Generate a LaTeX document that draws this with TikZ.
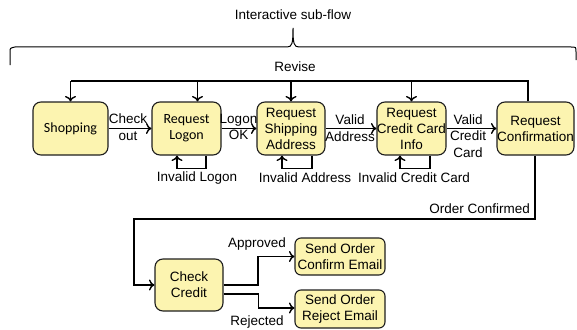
\documentclass[tikz,border=0pt]{standalone}
\usepackage{fontspec}
\setmainfont{Liberation Sans}
\newfontfamily\calfont{Carlito}
\usetikzlibrary{arrows.meta,calc}
\definecolor{boxfill}{RGB}{252,244,176}
\definecolor{boxline}{RGB}{30,30,30}
\tikzset{
  stbox/.style={draw=boxline,line width=1.1pt,fill=boxfill,rounded corners=8pt,align=center,
    inner sep=0pt,font=\fontsize{13.5}{16}\selectfont},
  line/.style={draw=black,line width=1.1pt},
  arr/.style={line,-{To[length=5.5pt,width=11pt,line width=1.4pt]}},
  lbl/.style={align=center,inner sep=0pt,font=\fontsize{13.5}{16.5}\selectfont},
}
\begin{document}
\begin{tikzpicture}[x=1pt,y=-1pt]
\useasboundingbox (0,0) rectangle (577,329);
% boxes
\node[stbox,minimum width=75pt,minimum height=53pt,font=\calfont\fontsize{14}{16}\selectfont] (shop) at (70.5,128.5) {Shopping};
\node[stbox,minimum width=69pt,minimum height=53pt,font=\calfont\fontsize{14}{16}\selectfont] (logon) at (186.5,128.5) {Request\\Logon};
\node[stbox,minimum width=68pt,minimum height=53pt] (ship) at (291,128.5) {Request\\Shipping\\Address};
\node[stbox,minimum width=69pt,minimum height=53pt] (credit) at (411.5,128.5) {Request\\Credit Card\\Info};
\node[stbox,minimum width=77pt,minimum height=53pt] (conf) at (535.5,128.5) {Request\\Confirmation};
\node[stbox,minimum width=68pt,minimum height=52pt] (check) at (189,285) {Check\\Credit};
\node[stbox,minimum width=90pt,minimum height=37pt,rounded corners=6pt] (cemail) at (340,256.5) {Send Order\\Confirm Email};
\node[stbox,minimum width=90pt,minimum height=38pt,rounded corners=6pt] (remail) at (340,309) {Send Order\\Reject Email};
% brace
\node[lbl] (title) at (293,15) {Interactive sub-flow};
\draw[line,line width=1pt] (10,65) -- (10,52) .. controls (10,48) .. (15,47) -- (287,47)
  .. controls (292,47) and (293,44) .. (293,28)
  .. controls (293,44) and (294,47) .. (299,47) -- (571,47) .. controls (576,47) .. (576,52) -- (576,60);
% revise
\node[lbl] (revise) at (295,67) {Revise};
\coordinate (rv) at (528,81);
\draw[line] (rv |- conf.north) -- (rv) -- (shop.north |- rv);
\draw[arr] (shop.north |- rv) -- (shop.north);
\coordinate (lgt) at ($(logon.north)+(11,0)$);
\draw[arr] (lgt |- rv) -- (lgt);
\draw[arr] (ship.north |- rv) -- (ship.north);
\draw[arr] (credit.north |- rv) -- (credit.north);
% forward arrows
\draw[arr] (shop.east) -- (logon.west);
\node[lbl] (l1) at (128,127) {Check\\out};
\draw[arr] (logon.east) -- (ship.west);
\node[lbl] (l2) at (238.5,127) {Logon\\OK};
\draw[arr] (ship.east) -- (credit.west);
\node[lbl] (l3) at (350,128) {Valid\\Address};
\draw[arr] (credit.east) -- (conf.west);
\node[lbl] (l4) at (468,136) {Valid\\Credit\\Card};
% self loops
\draw[arr] ([xshift=19.5pt]logon.south) -- ++(0,13) -| ([xshift=-9.5pt]logon.south);
\node[lbl] (i1) at (197,178) {Invalid Logon};
\draw[arr] ([xshift=21pt]ship.south) -- ++(0,13) -| ([xshift=-9pt]ship.south);
\node[lbl] (i2) at (305,178) {Invalid Address};
\draw[arr] ([xshift=18.5pt]credit.south) -- ++(0,13) -| ([xshift=-11.5pt]credit.south);
\node[lbl] (i3) at (414,178) {Invalid Credit Card};
% order confirmed
\coordinate (oc1) at (535,219);
\coordinate (oc2) at (134,219);
\draw[arr] (oc1 |- conf.south) -- (oc1) -- (oc2) |- (check.west);
\node[lbl,anchor=east] (ocl) at (530,209) {Order Confirmed};
% check credit outputs
\coordinate (sp) at (258,285);
\draw[arr] (check.east) -- (sp) |- (cemail.west);
\node[lbl] (ap) at (257,244) {Approved};
\draw[arr] ([yshift=-9pt]check.east) -- ++(35,0) |- ([yshift=1pt]remail.west);
\node[lbl] (rj) at (257,322) {Rejected};
\end{tikzpicture}
\end{document}
